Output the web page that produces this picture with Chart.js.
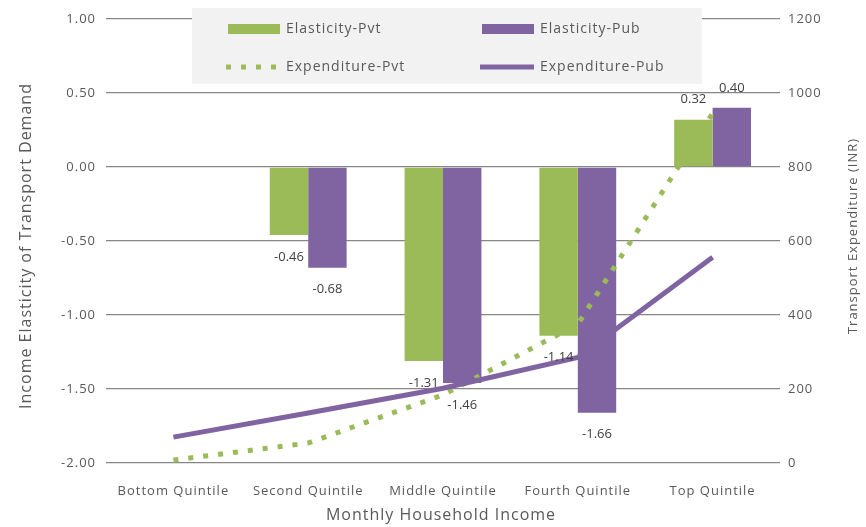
<!DOCTYPE html>
<html>
<head>
<meta charset="utf-8">
<script src="https://cdn.jsdelivr.net/npm/chart.js@4"></script>
<style>
  html, body { margin: 0; background: #fff; }
  #wrap { width: 866px; height: 527px; position: relative; }
</style>
</head>
<body>
<div id="wrap"><canvas id="chart"></canvas></div>
<script>
// ── data ──
const QUINTILES  = ['Bottom Quintile', 'Second Quintile', 'Middle Quintile', 'Fourth Quintile', 'Top Quintile'];
const ELAST_PVT  = [null, -0.46, -1.31, -1.14, 0.32];
const ELAST_PUB  = [null, -0.68, -1.46, -1.66, 0.40];
const EXP_PVT    = [8, 54, 184, 375, 945];
const EXP_PUB    = [70, 135, 202, 285, 556];
const SERIES     = ['Elasticity-Pvt', 'Elasticity-Pub', 'Expenditure-Pvt', 'Expenditure-Pub'];
const ELAST_AXIS = { min: -2, max: 1, step: 0.5 };
const EXP_AXIS   = { min: 0, max: 1200, step: 200 };

const GREEN  = '#9BBB59';
const PURPLE = '#8064A2';
const TXT    = '#595959';
const FONT   = "'Open Sans', sans-serif";

// wider tracking for the axis tick text
const tracking = {
  id: 'tracking',
  beforeDraw(chart) { chart.ctx.letterSpacing = '1px'; },
  afterDraw(chart)  { chart.ctx.letterSpacing = '0px'; },
};

// value labels at the end of each bar
const barLabels = {
  id: 'barLabels',
  afterDatasetsDraw(chart) {
    const ctx = chart.ctx;
    ctx.save();
    ctx.letterSpacing = '0px';
    ctx.font = '13px ' + FONT;
    ctx.fillStyle = '#404040';
    ctx.textAlign = 'center';
    ctx.textBaseline = 'middle';
    chart.data.datasets.forEach((ds, i) => {
      if (ds.type !== 'bar') return;
      chart.getDatasetMeta(i).data.forEach((el, j) => {
        const v = ds.data[j];
        if (v == null) return;
        const y = v < 0 ? el.y + 22 : el.y - 20;
        ctx.fillText(v.toFixed(2), el.x, y);
      });
    });
    ctx.restore();
  }
};

// grey legend panel laid over the top of the plot
const panelLegend = {
  id: 'panelLegend',
  afterDraw(chart) {
    const ctx = chart.ctx;
    ctx.save();
    ctx.fillStyle = '#F2F2F2';
    ctx.fillRect(192, 8, 510, 76);
    ctx.font = '14px ' + FONT;
    ctx.letterSpacing = '1px';
    ctx.textBaseline = 'middle';
    const cols = [228, 482];
    const rows = [29, 67];
    chart.data.datasets.forEach((ds, i) => {
      const x = cols[i % 2], y = rows[Math.floor(i / 2)];
      if (ds.type === 'bar') {
        ctx.fillStyle = ds.backgroundColor;
        ctx.fillRect(x, y - 5, 52, 10);
      } else {
        ctx.strokeStyle = ds.borderColor;
        ctx.lineWidth = 5;
        ctx.setLineDash(ds.borderDash || []);
        ctx.beginPath();
        ctx.moveTo(x - 2, y);
        ctx.lineTo(x + 52, y);
        ctx.stroke();
        ctx.setLineDash([]);
      }
      ctx.fillStyle = TXT;
      ctx.fillText(ds.label, x + 58, y);
    });
    ctx.restore();
  }
};

// axis titles (both vertical titles read bottom-to-top)
const axisTitles = {
  id: 'axisTitles',
  afterDraw(chart) {
    const ctx = chart.ctx;
    ctx.save();
    ctx.letterSpacing = '1px';
    ctx.fillStyle = TXT;
    ctx.textAlign = 'center';
    ctx.textBaseline = 'middle';
    ctx.font = '16px ' + FONT;
    ctx.fillText('Monthly Household Income', 441, 515);
    [[26, 246, 16, 'Income Elasticity of Transport Demand'], [853, 236, 13, 'Transport Expenditure (INR)']].forEach(([x, y, size, t]) => {
      ctx.save();
      ctx.font = size + 'px ' + FONT;
      ctx.translate(x, y);
      ctx.rotate(-Math.PI / 2);
      ctx.fillText(t, 0, 0);
      ctx.restore();
    });
    ctx.restore();
  }
};

new Chart(document.getElementById('chart'), {
  data: {
    labels: QUINTILES,
    datasets: [
      { type: 'bar', label: SERIES[0], data: ELAST_PVT, backgroundColor: GREEN, yAxisID: 'y', order: 2 },
      { type: 'bar', label: SERIES[1], data: ELAST_PUB, backgroundColor: PURPLE, yAxisID: 'y', order: 2 },
      { type: 'line', label: SERIES[2], data: EXP_PVT, borderColor: GREEN, borderWidth: 5, borderDash: [5, 10],
        borderCapStyle: 'butt', pointRadius: 0, tension: 0, yAxisID: 'y2', order: 1 },
      { type: 'line', label: SERIES[3], data: EXP_PUB, borderColor: PURPLE, borderWidth: 5,
        pointRadius: 0, tension: 0, yAxisID: 'y2', order: 0 },
    ],
  },
  options: {
    responsive: true,
    maintainAspectRatio: false,
    animation: false,
    layout: { padding: { top: 19, left: 0, right: 0, bottom: 0 } },
    datasets: { bar: { barPercentage: 1, categoryPercentage: 0.57 } },
    plugins: { legend: { display: false }, tooltip: { enabled: false } },
    scales: {
      x: {
        grid: { display: false },
        border: { display: false },
        ticks: { color: TXT, font: { family: FONT, size: 13 }, padding: 12, maxRotation: 0 },
        afterFit: s => { s.height = 64; },
      },
      y: {
        position: 'left',
        min: ELAST_AXIS.min, max: ELAST_AXIS.max,
        grid: { color: '#868686', lineWidth: 1.3, drawTicks: false },
        border: { display: false },
        ticks: { stepSize: ELAST_AXIS.step, color: TXT, font: { family: FONT, size: 13 }, padding: 10,
                 callback: v => v.toFixed(2) },
        afterFit: s => { s.width = 106; },
      },
      y2: {
        position: 'right',
        min: EXP_AXIS.min, max: EXP_AXIS.max,
        grid: { display: false, drawTicks: false },
        border: { display: false },
        ticks: { stepSize: EXP_AXIS.step, color: TXT, font: { family: FONT, size: 13 }, padding: 8,
                 callback: v => String(v) },
        afterFit: s => { s.width = 86; },
      },
    },
  },
  plugins: [tracking, barLabels, panelLegend, axisTitles],
});
</script>
</body>
</html>
